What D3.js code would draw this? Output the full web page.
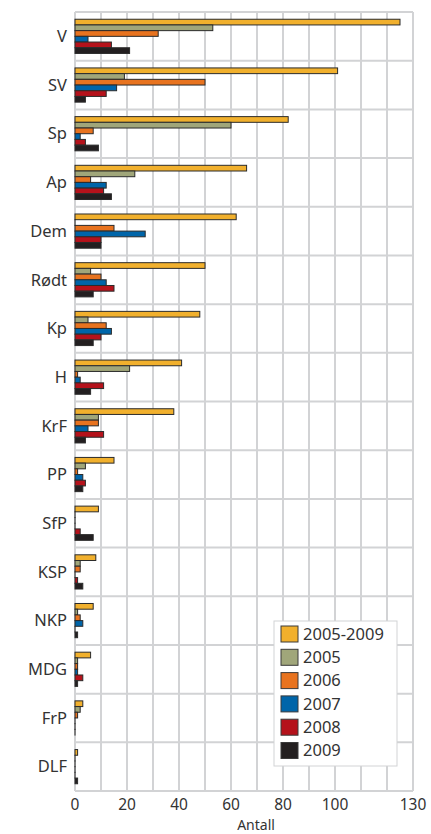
<!DOCTYPE html>
<html>
<head>
<meta charset="utf-8">
<script src="https://cdn.jsdelivr.net/npm/d3@7"></script>
<style>
  body { margin: 0; background: #fff; }
  text { font-family: "Noto Sans", "DejaVu Sans", sans-serif; fill: #333; }
</style>
</head>
<body>
<svg id="chart" width="431" height="834"></svg>
<script>
const parties = ["V","SV","Sp","Ap","Dem","Rødt","Kp","H","KrF","PP","SfP","KSP","NKP","MDG","FrP","DLF"];
const seriesNames = ["2005-2009","2005","2006","2007","2008","2009"];
const seriesColors = ["#f1b02d","#a0a67a","#e8731f","#0065a9","#b5121b","#231f20"];

const v0509 = [125,101,82,66,62,50,48,41,38,15,9,8,7,6,3,1];
const v2005 = [53,19,60,23,0,6,5,21,9,4,0,2,1,1,2,0];
const v2006 = [32,50,7,6,15,10,12,1,9,1,0,2,2,1,1,0];
const v2007 = [5,16,2,12,27,12,14,2,5,3,0,0,3,1,0,0];
const v2008 = [14,12,4,11,10,15,10,11,11,4,2,1,0,3,0,0];
const v2009 = [21,4,9,14,10,7,7,6,4,3,7,3,1,1,0,1];
const seriesValues = [v0509, v2005, v2006, v2007, v2008, v2009];

const xTicks = [0,20,40,60,80,100,130];
const gridTicks = d3.range(0, 131, 10);

const svg = d3.select("#chart");
const margin = {top: 12, left: 75, right: 18, bottom: 43};
const W = 431, H = 834;

const x = d3.scaleLinear().domain([0,130]).range([margin.left, W - margin.right]);
const y = d3.scaleBand().domain(parties).range([margin.top, H - margin.bottom]);
const yInner = d3.scaleBand().domain(seriesNames).range([0, y.bandwidth()]).paddingOuter(1.27);

// grid
const grid = svg.append("g").attr("stroke", "#d2d3d5").attr("stroke-width", 2);
grid.selectAll(".vg").data(gridTicks).join("line")
  .attr("x1", d => x(d)).attr("x2", d => x(d))
  .attr("y1", margin.top).attr("y2", H - margin.bottom);
grid.selectAll(".hg").data(parties.concat(["_end"])).join("line")
  .attr("x1", margin.left).attr("x2", W - margin.right)
  .attr("y1", d => d === "_end" ? H - margin.bottom : y(d))
  .attr("y2", d => d === "_end" ? H - margin.bottom : y(d));

// bars (zero values still leave a thin stroke at the axis, as in the original)
seriesValues.forEach((vals, si) => {
  svg.append("g").selectAll("rect").data(parties).join("rect")
    .attr("x", x(0))
    .attr("y", (p) => y(p) + yInner(seriesNames[si]))
    .attr("width", (p, i) => Math.max(0.01, x(vals[i]) - x(0)))
    .attr("height", yInner.bandwidth())
    .attr("fill", seriesColors[si])
    .attr("stroke", "#2b2b2b")
    .attr("stroke-width", 1);
});

// category labels
svg.append("g").selectAll("text").data(parties).join("text")
  .attr("x", margin.left - 8)
  .attr("y", p => y(p) + y.bandwidth() / 2)
  .attr("dy", "0.35em")
  .attr("text-anchor", "end")
  .attr("font-size", 16.5)
  .text(p => p);

// x tick labels
svg.append("g").selectAll("text").data(xTicks).join("text")
  .attr("x", d => x(d))
  .attr("y", 810)
  .attr("text-anchor", "middle")
  .attr("font-size", 15.5)
  .text(d => d);

svg.append("text")
  .attr("x", 256).attr("y", 829.8)
  .attr("text-anchor", "middle")
  .attr("font-size", 14)
  .text("Antall");

// legend
const lg = svg.append("g").attr("transform", "translate(274,621)");
lg.append("rect").attr("width", 123).attr("height", 145)
  .attr("fill", "#fff").attr("stroke", "#d2d3d5").attr("stroke-width", 1);
const items = lg.selectAll("g").data(seriesNames).join("g")
  .attr("transform", (d, i) => `translate(7,${5 + i * 23.3})`);
items.append("rect").attr("width", 17).attr("height", 16)
  .attr("fill", (d, i) => seriesColors[i])
  .attr("stroke", "#3a3a3a").attr("stroke-width", 1);
items.append("text").attr("x", 22).attr("y", 8).attr("dy", "0.35em")
  .attr("font-size", 16.5)
  .text(d => d);
</script>
</body>
</html>
